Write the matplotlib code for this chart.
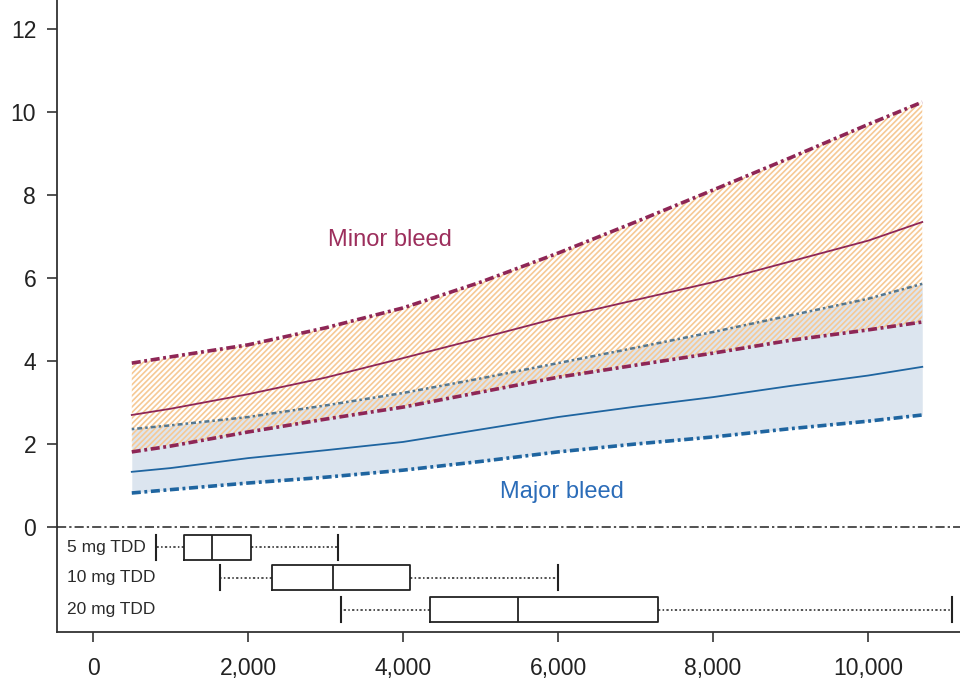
import matplotlib
matplotlib.use("Agg")
import matplotlib.pyplot as plt
import numpy as np

plt.rcParams['font.family'] = ['Liberation Sans', 'DejaVu Sans']
plt.rcParams['hatch.linewidth'] = 1.2

# dose (x) grid the curves were read at
dose = [500, 1000, 2000, 3000, 4000, 5000, 6000, 7000, 8000, 9000, 10000, 10700]

# minor bleed: median and 95% band
minor_mid = [2.70, 2.85, 3.20, 3.60, 4.07, 4.55, 5.04, 5.47, 5.90, 6.40, 6.90, 7.35]
minor_lo = [1.81, 1.95, 2.29, 2.60, 2.89, 3.25, 3.61, 3.90, 4.19, 4.50, 4.75, 4.94]
minor_hi = [3.95, 4.10, 4.39, 4.80, 5.28, 5.90, 6.60, 7.35, 8.12, 8.90, 9.70, 10.24]

# major bleed: median and 95% band
major_mid = [1.33, 1.42, 1.66, 1.85, 2.05, 2.35, 2.65, 2.90, 3.13, 3.40, 3.65, 3.86]
major_lo = [0.82, 0.90, 1.06, 1.20, 1.37, 1.58, 1.81, 2.00, 2.17, 2.37, 2.55, 2.70]
major_hi = [2.36, 2.45, 2.65, 2.93, 3.23, 3.58, 3.95, 4.32, 4.70, 5.10, 5.50, 5.86]

# exposure distribution per dose group (whislo, q1, med, q3, whishi)
groups = ["5 mg TDD", "10 mg TDD", "20 mg TDD"]
whislo = [813, 1639, 3200]
q1 = [1174, 2310, 4350]
med = [1535, 3097, 5490]
q3 = [2039, 4090, 7290]
whishi = [3161, 6000, 11080]

x_ticks = [0, 2000, 4000, 6000, 8000, 10000]
y_ticks = [0, 2, 4, 6, 8, 10, 12]

maroon = "#8e2656"
blue = "#1f65a0"
spine_col = "#333333"

fig = plt.figure(figsize=(9.6, 6.81), dpi=100)
ax = fig.add_axes([57 / 960, 49 / 681, 1 - 57 / 960, 632 / 681])

# bands
ax.fill_between(dose, major_lo, major_hi, color="#dce5ef", lw=0, zorder=1)
ax.fill_between(dose, minor_lo, minor_hi, facecolor="none", edgecolor="#f6c995",
                hatch="//////", lw=0, zorder=2)

bound = dict(lw=2.6, dashes=(2.5, 1, 0.8, 1), zorder=4)
ax.plot(dose, minor_hi, color=maroon, **bound)
ax.plot(dose, minor_lo, color=maroon, **bound)
ax.plot(dose, major_lo, color=blue, **bound)
ax.plot(dose, major_hi, color="#55778f", lw=1.8, dashes=(1, 1.2, 2, 1.2), zorder=4)
ax.plot(dose, minor_mid, color=maroon, lw=1.3, zorder=4)
ax.plot(dose, major_mid, color=blue, lw=1.3, zorder=4)

ax.text(3830, 6.92, "Minor bleed", color="#9c2e5c", fontsize=17, ha="center", va="center")
ax.text(6050, 0.84, "Major bleed", color="#2b6cb8", fontsize=17, ha="center", va="center")

# zero reference line
ax.axhline(0, color="#222222", lw=1.1, ls=(0, (6, 2, 1.5, 2)), zorder=3)

# box plots below zero
positions = [-0.49, -1.22, -1.99]
stats = []
for i in range(len(groups)):
    stats.append(dict(label=groups[i], whislo=whislo[i], q1=q1[i], med=med[i],
                      q3=q3[i], whishi=whishi[i], fliers=[]))
ax.bxp(stats, positions=positions, orientation="horizontal", widths=0.6,
       showfliers=False, manage_ticks=False,
       boxprops=dict(color="#222222", lw=1.3),
       medianprops=dict(color="#222222", lw=1.3),
       whiskerprops=dict(color="#222222", lw=1.1, ls=(0, (1.5, 1.5, 1, 1.5))),
       capprops=dict(color="#222222", lw=1.5), capwidths=0.6)
for pos, name in zip(positions, groups):
    ax.text(-335, pos, name, fontsize=12.5, color="#2a2a2a", ha="left", va="center")

ax.set_xlim(-465, 11187)
ax.set_ylim(-2.53, 12.7)
ax.set_xticks(x_ticks)
ax.set_xticklabels([f"{v:,}" for v in x_ticks])
ax.set_yticks(y_ticks)
ax.tick_params(axis="both", labelsize=16.5, color=spine_col, width=1.2, length=7,
               labelcolor="#222222")
ax.tick_params(axis="x", pad=11)
ax.tick_params(axis="y", pad=8)

for side in ["top", "right"]:
    ax.spines[side].set_visible(False)
for side in ["left", "bottom"]:
    ax.spines[side].set_color(spine_col)
    ax.spines[side].set_linewidth(1.3)

fig.savefig("out.png", dpi=100)
plt.close(fig)
